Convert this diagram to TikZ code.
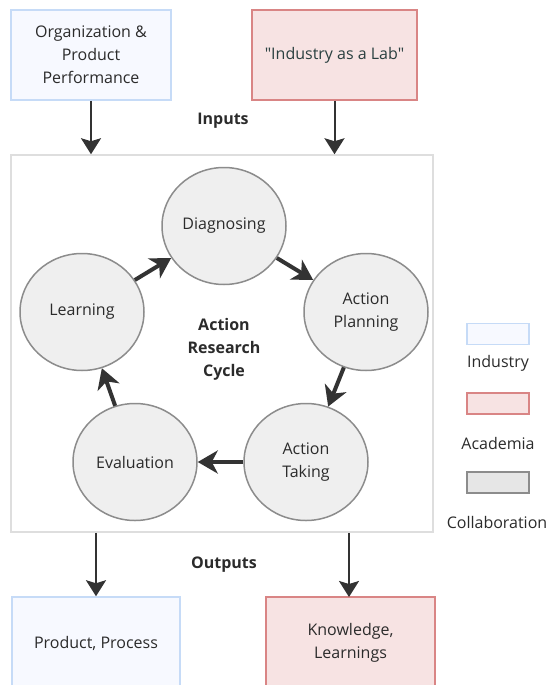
\documentclass[tikz,border=0pt]{standalone}
\usepackage{fontspec}
\setmainfont{Open Sans}[Ligatures=TeXOff]
\usetikzlibrary{arrows.meta,shapes.geometric}
\definecolor{txt}{HTML}{2B2B2B}
\definecolor{indfill}{HTML}{F7F9FF}
\definecolor{inddraw}{HTML}{C6DBF7}
\definecolor{acafill}{HTML}{F7E3E3}
\definecolor{acadraw}{HTML}{D98585}
\definecolor{colfill}{HTML}{EFEFEF}
\definecolor{coldraw}{HTML}{8C8C8C}
\definecolor{legcol}{HTML}{E6E6E6}
\definecolor{contdraw}{HTML}{DEDEDE}
\definecolor{arr}{HTML}{333333}
\definecolor{labtxt}{HTML}{2A4040}
\tikzset{
  base/.style={font=\fontsize{16}{23}\selectfont, text=txt, align=center, inner sep=0pt},
  indbox/.style={base, rectangle, draw=inddraw, fill=indfill, line width=1.5pt},
  acabox/.style={base, rectangle, draw=acadraw, fill=acafill, line width=1.5pt},
  cyc/.style={base, ellipse, draw=coldraw, fill=colfill, line width=1.5pt, minimum width=124pt, minimum height=117pt},
  lbl/.style={base, font=\fontsize{16}{23}\selectfont\bfseries},
  flow/.style={draw=arr, line width=2pt, -{Stealth[length=16pt,width=20pt,inset=3pt]}},
  cycarrow/.style={draw=arr, line width=4pt, -{Stealth[length=20pt,width=23pt,inset=6pt]}},
  legbox/.style={rectangle, line width=1.5pt, minimum width=62pt, minimum height=21pt, inner sep=0pt},
}
\begin{document}
\begin{tikzpicture}[x=1pt,y=-1pt]
\useasboundingbox (0,0) rectangle (550,685);
% inputs
\node[indbox, minimum width=160pt, minimum height=90pt] (b1) at (91,55) {Organization \&\\Product\\Performance};
\node[acabox, minimum width=165pt, minimum height=90pt, text=labtxt] (b2) at (334.5,55) {"Industry as a Lab"};
\node[lbl] (inp) at (223,121) {Inputs};
% container
\node[rectangle, draw=contdraw, fill=white, line width=1.5pt, minimum width=422pt, minimum height=377pt, inner sep=0pt] (cont) at (222,343.5) {};
\draw[flow] (b1.south) -- (b1.south |- cont.north);
\draw[flow] (b2.south) -- (b2.south |- cont.north);
% cycle
\node[cyc] (diag) at (224,226) {Diagnosing};
\node[cyc] (plan) at (366,312) {Action\\Planning};
\node[cyc] (take) at (306,462) {Action\\Taking};
\node[cyc] (eval) at (135,462) {Evaluation};
\node[cyc] (learn) at (82,312) {Learning};
\node[lbl] (center) at (224,349) {Action\\Research\\Cycle};
\draw[cycarrow] (diag) -- (plan);
\draw[cycarrow] (plan) -- (take);
\draw[cycarrow] (take) -- (eval);
\draw[cycarrow] (eval) -- (learn);
\draw[cycarrow] (learn) -- (diag);
% outputs
\node[lbl] (outp) at (224,565) {Outputs};
\node[indbox, minimum width=168pt, minimum height=92pt] (b3) at (96,643) {Product, Process};
\node[acabox, minimum width=169pt, minimum height=92pt] (b4) at (350.5,643) {Knowledge,\\Learnings};
\coordinate (b4top) at (349,597);
\draw[flow] (cont.south -| b3.north) -- (b3.north);
\draw[flow] (cont.south -| b4top) -- (b4top);
% legend
\node[legbox, draw=inddraw, fill=indfill] (l1) at (498,334) {};
\node[base] (l1t) at (498,363) {Industry};
\node[legbox, draw=acadraw, fill=acafill] (l2) at (498,403.5) {};
\node[base] (l2t) at (498,443) {Academia};
\node[legbox, draw=coldraw, fill=legcol] (l3) at (498,482.5) {};
\node[base] (l3t) at (497,522) {Collaboration};
\end{tikzpicture}
\end{document}
